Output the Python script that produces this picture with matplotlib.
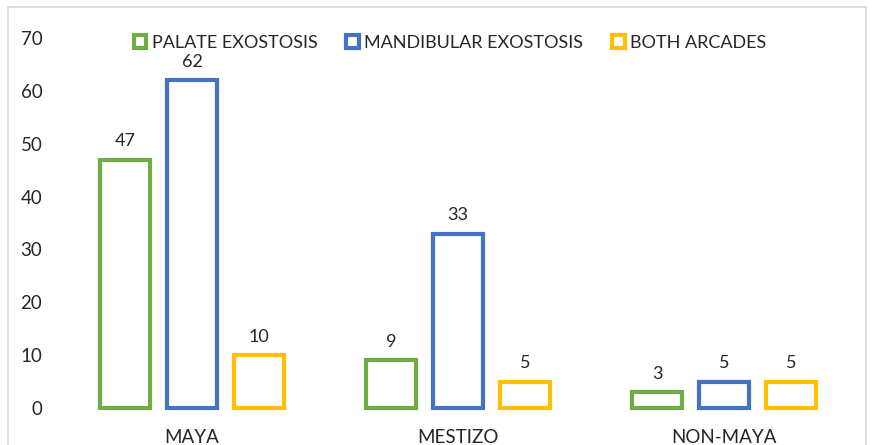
import matplotlib
matplotlib.use("Agg")
import matplotlib.pyplot as plt
from matplotlib.patches import Patch, Rectangle
import numpy as np

categories = ["MAYA", "MESTIZO", "NON-MAYA"]
series_names = ["PALATE EXOSTOSIS", "MANDIBULAR EXOSTOSIS", "BOTH ARCADES"]
palate = [47, 9, 3]
mandibular = [62, 33, 5]
both = [10, 5, 5]
colors = ["#70AD47", "#4472C4", "#FFC000"]

plt.rcParams["font.family"] = ["Lato", "DejaVu Sans"]
text_color = "#262626"

fig = plt.figure(figsize=(8.72, 4.45), dpi=100)
ax = fig.add_axes([59 / 872, 37 / 445, (857 - 59) / 872, (408 - 38) / 445])

# Chart frame
fig.patches.append(Rectangle((8 / 872, -0.1), (866 - 8) / 872, 1.1 - 7 / 445,
                             transform=fig.transFigure, fill=False,
                             edgecolor="#D9D9D9", linewidth=1.2))

x = np.arange(len(categories))
step = 67 / 266
width = 50 / 266
for i, (vals, name) in enumerate(zip([palate, mandibular, both], series_names)):
    pos = x + (i - 1) * step
    bars = ax.bar(pos, vals, width=width, facecolor="white", edgecolor=colors[i],
                  linewidth=3, label=name, clip_on=False)
    for b, v in zip(bars, vals):
        ax.text(b.get_x() + b.get_width() / 2, v + 2.0, str(v), ha="center", va="bottom",
                fontsize=13, color=text_color)

ax.set_xlim(-0.5, 2.5)
ax.set_ylim(0, 70)
ax.set_yticks(range(0, 71, 10))
ax.set_xticks(x)
ax.set_xticklabels(categories)
ax.tick_params(axis="both", length=0, labelsize=13.5, colors=text_color)
ax.tick_params(axis="y", pad=12)
ax.tick_params(axis="x", pad=15)
for s in ax.spines.values():
    s.set_visible(False)

handles = [Patch(facecolor="white", edgecolor=c, linewidth=3) for c in colors]
fig.legend(handles, series_names, loc="center", bbox_to_anchor=(450 / 872, 1 - 43 / 445),
           ncol=3, frameon=False, fontsize=13, handlelength=0.7, handleheight=0.7,
           handletextpad=0.3, columnspacing=1.6, labelcolor=text_color)

fig.savefig("out.png", dpi=100)
